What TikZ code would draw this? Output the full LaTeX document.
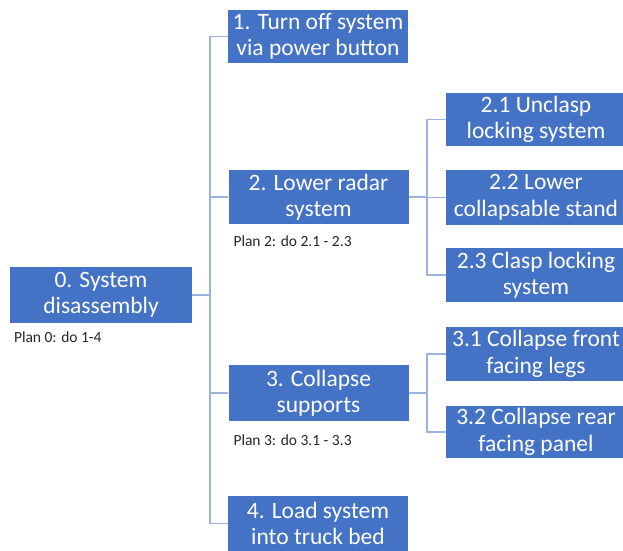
\documentclass[tikz,border=0pt]{standalone}
\usepackage{fontspec}
\setmainfont{Carlito}
\usepackage{tikz}
\usetikzlibrary{positioning}

\definecolor{taskblue}{HTML}{4472C4}
\definecolor{linkblue}{HTML}{9DB3DE}

\tikzset{
    task/.style={draw=none, fill=taskblue, text=white, align=center, inner sep=0pt,
        minimum width=180pt, minimum height=54pt,
        font=\fontsize{23.5}{26.5}\selectfont},
    plan/.style={anchor=north west, inner sep=0pt, text=black!85,
        font=\fontsize{15.5}{17}\selectfont},
    link/.style={draw=linkblue, line width=1.6pt}
}

\begin{document}
\begin{tikzpicture}[x=1pt, y=-1pt]

    \useasboundingbox (0,0) rectangle (623,550);
    \clip (0,0) rectangle (623,550);

    % top level
    \node[task, minimum width=182pt, minimum height=56pt] (t0) at (101,295) {0. System\\disassembly};
    \node[plan] (p0) at ([shift={(4,8)}]t0.south west) {Plan 0: do 1-4};

    % second level
    \node[task, minimum height=53pt] (t1) at (318,36.5) {1. Turn off system\\via power button};
    \node[task] (t2) at (318.5,197) {2. Lower radar\\system};
    \node[task, minimum height=56pt] (t3) at (318.5,393) {3. Collapse\\supports};
    \node[task, minimum height=55pt] (t4) at (318,523.5) {4. Load system\\into truck bed};
    \node[plan] (p2) at ([shift={(5,11)}]t2.south west) {Plan 2: do 2.1 - 2.3};
    \node[plan] (p3) at ([shift={(5,13)}]t3.south west) {Plan 3: do 3.1 - 3.3};

    % third level
    \node[task, minimum height=53pt] (t21) at (536,119.5) {2.1 Unclasp\\locking system};
    \node[task, minimum height=55pt] (t22) at (536,197.5) {2.2 Lower\\collapsable stand};
    \node[task] (t23) at (536,275) {2.3 Clasp locking\\system};
    \node[task] (t31) at (536,354) {3.1 Collapse front\\facing legs};
    \node[task, minimum height=52pt] (t32) at (536,432) {3.2 Collapse rear\\facing panel};

    % connectors
    \foreach \c in {t1,t2,t3,t4} {
        \path[link] (t0.east) -- ++(18,0) |- (\c.west);
    }
    \foreach \c in {t21,t22,t23} {
        \path[link] (t2.east) -- ++(18,0) |- (\c.west);
    }
    \foreach \c in {t31,t32} {
        \path[link] (t3.east) -- ++(18,0) |- (\c.west);
    }

\end{tikzpicture}
\end{document}
